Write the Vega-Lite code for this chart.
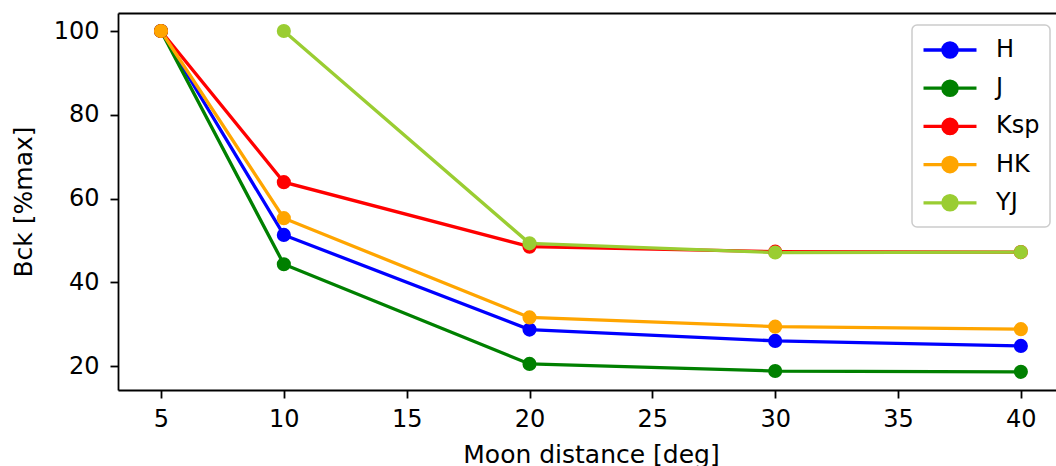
{
  "$schema": "https://vega.github.io/schema/vega-lite/v6.json",
  "width": 938,
  "height": 377,
  "autosize": {"type": "none"},
  "padding": {"left": 118, "top": 13, "right": 0, "bottom": 76},
  "config": {
    "view": {"stroke": null},
    "font": "DejaVu Sans",
    "axis": {
      "grid": false,
      "domainColor": "#000000",
      "domainWidth": 1.8,
      "tickColor": "#000000",
      "tickWidth": 1.8,
      "tickSize": 8,
      "labelColor": "#000000",
      "labelFontSize": 24,
      "labelOverlap": false,
      "labelFlush": false,
      "titleColor": "#000000",
      "titleFontSize": 25,
      "titleFontWeight": "normal"
    }
  },
  "data": {
    "values": [
      {"band": "H", "dist": 5, "bck": 100},
      {"band": "H", "dist": 10, "bck": 51.3},
      {"band": "H", "dist": 20, "bck": 28.7},
      {"band": "H", "dist": 30, "bck": 26.0},
      {"band": "H", "dist": 40, "bck": 24.8},
      {"band": "J", "dist": 5, "bck": 100},
      {"band": "J", "dist": 10, "bck": 44.3},
      {"band": "J", "dist": 20, "bck": 20.5},
      {"band": "J", "dist": 30, "bck": 18.8},
      {"band": "J", "dist": 40, "bck": 18.6},
      {"band": "Ksp", "dist": 5, "bck": 100},
      {"band": "Ksp", "dist": 10, "bck": 63.9},
      {"band": "Ksp", "dist": 20, "bck": 48.5},
      {"band": "Ksp", "dist": 30, "bck": 47.3},
      {"band": "Ksp", "dist": 40, "bck": 47.2},
      {"band": "HK", "dist": 5, "bck": 100},
      {"band": "HK", "dist": 10, "bck": 55.3},
      {"band": "HK", "dist": 20, "bck": 31.6},
      {"band": "HK", "dist": 30, "bck": 29.4},
      {"band": "HK", "dist": 40, "bck": 28.8},
      {"band": "YJ", "dist": 10, "bck": 100},
      {"band": "YJ", "dist": 20, "bck": 49.3},
      {"band": "YJ", "dist": 30, "bck": 47.1},
      {"band": "YJ", "dist": 40, "bck": 47.2}
    ]
  },
  "layer": [
    {
      "mark": {
        "type": "line",
        "strokeWidth": 3.3,
        "point": {"filled": true, "size": 200, "opacity": 1}
      },
      "encoding": {
        "x": {
          "field": "dist",
          "type": "quantitative",
          "scale": {"domain": [3.25, 41.43], "nice": false, "zero": false},
          "axis": {
            "orient": "bottom",
            "values": [5, 10, 15, 20, 25, 30, 35, 40],
            "labelPadding": 9,
            "title": "Moon distance [deg]",
            "titlePadding": 11,
            "titleX": 473
          }
        },
        "y": {
          "field": "bck",
          "type": "quantitative",
          "scale": {"domain": [14.27, 104.3], "nice": false, "zero": false},
          "axis": {
            "values": [20, 40, 60, 80, 100],
            "labelPadding": 11,
            "title": "Bck [%max]",
            "titlePadding": 17
          }
        },
        "color": {
          "field": "band",
          "type": "nominal",
          "sort": ["H", "J", "Ksp", "HK", "YJ"],
          "scale": {
            "domain": ["H", "J", "Ksp", "HK", "YJ"],
            "range": ["#0000ff", "#008000", "#ff0000", "#ffa500", "#9acd32"]
          },
          "legend": {
            "title": null,
            "orient": "none",
            "legendX": 794,
            "legendY": 12,
            "padding": 10,
            "fillColor": "rgba(255,255,255,0.8)",
            "strokeColor": "#cccccc",
            "cornerRadius": 5,
            "symbolType": "M-2,0L2,0M0.54,0A0.54,0.54,0,1,1,-0.54,0A0.54,0.54,0,1,1,0.54,0Z",
            "symbolSize": 702,
            "symbolOffset": 13,
            "symbolStrokeWidth": 3.3,
            "labelFontSize": 24,
            "labelColor": "#000000",
            "labelOffset": 31,
            "rowPadding": 9.2,
            "encode": {
              "legend": {
                "update": {"strokeWidth": {"value": 1.5}}
              },
              "symbols": {
                "update": {
                  "fill": {"scale": "color", "field": "value"},
                  "stroke": {"scale": "color", "field": "value"},
                  "opacity": {"value": 1},
                  "fillOpacity": {"value": 1},
                  "strokeOpacity": {"value": 1}
                }
              }
            }
          }
        }
      }
    },
    {
      "mark": {"type": "point", "opacity": 0},
      "encoding": {
        "x": {
          "field": "dist",
          "type": "quantitative",
          "axis": {
            "orient": "top",
            "labels": false,
            "ticks": false,
            "title": null,
            "domain": true
          }
        },
        "y": {"field": "bck", "type": "quantitative"}
      }
    }
  ],
  "resolve": {"axis": {"x": "independent"}}
}
